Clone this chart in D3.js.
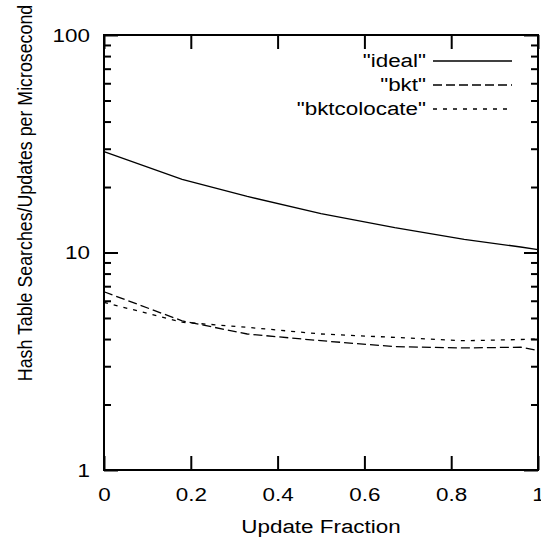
<!DOCTYPE html>
<html>
<head>
<meta charset="utf-8">
<script src="https://cdn.jsdelivr.net/npm/d3@7"></script>
<style>
    body { margin: 0; background: #fff; }
    text { font-family: "Liberation Sans", Arial, sans-serif; fill: #000; }
</style>
</head>
<body>
<div class="chart-container"></div>
<script>
var fractions = [0, 0.18, 0.33, 0.5, 0.67, 0.83, 0.96, 1];
var ideal = [29.1, 21.7, 18.1, 15.1, 13.0, 11.5, 10.6, 10.3];
var bkt = [6.6, 4.85, 4.22, 3.93, 3.69, 3.64, 3.67, 3.54];
var bktColocate = [5.9, 4.78, 4.53, 4.22, 4.07, 3.93, 3.98, 4.0];
var seriesNames = ['"ideal"', '"bkt"', '"bktcolocate"'];
var xTicks = [0, 0.2, 0.4, 0.6, 0.8, 1];
var yTicks = [1, 10, 100];

// the reference text is a bit wider than it is tall
var stretch = 1.18;

var chart = {
    draw: function () {
        this.defineComponents();
        this.addTicks();
        this.addLines();
        this.addFrame();
        this.addLabels();
        this.addLegend();
    },
    defineComponents: function () {
        this.margin = { top: 35, right: 3, bottom: 71, left: 104 };
        this.width = 541 - this.margin.left - this.margin.right;
        this.height = 541 - this.margin.top - this.margin.bottom;

        this.svg = d3.select(".chart-container")
            .append("svg")
            .attr("width", 541)
            .attr("height", 541)
            .append("g")
            .attr("transform", "translate(" + this.margin.left + "," + this.margin.top + ")");

        this.x = d3.scaleLinear().domain([0, 1]).range([0, this.width]);
        this.y = d3.scaleLog().domain([1, 100]).range([this.height, 0]);

        this.series = [
            { name: seriesNames[0], values: ideal, dash: null },
            { name: seriesNames[1], values: bkt, dash: "9,4" },
            { name: seriesNames[2], values: bktColocate, dash: "4,6" }
        ];
    },
    addTicks: function () {
        var minor = [];
        [1, 10].forEach(function (d) {
            for (var k = 2; k <= 9; k++) minor.push(d * k);
        });

        var tickStyle = function (g) {
            g.select(".domain").remove();
            g.selectAll("line").attr("stroke", "#000").attr("stroke-width", 2);
            g.selectAll("text")
                .style("font-size", "19px")
                .attr("transform", "scale(" + stretch + ",1)");
        };

        // bottom and top x ticks
        this.svg.append("g")
            .attr("transform", "translate(0," + this.height + ")")
            .call(d3.axisBottom(this.x).tickValues(xTicks).tickSize(-14).tickPadding(17.5)
                .tickFormat(function (d) { return d3.format("")(d); }))
            .call(tickStyle);
        this.svg.append("g")
            .call(d3.axisTop(this.x).tickValues(xTicks).tickSize(-14).tickFormat(""))
            .call(tickStyle);

        // left and right y ticks, major and minor
        this.svg.append("g")
            .call(d3.axisLeft(this.y).tickValues(yTicks).tickSize(-14)
                .tickFormat(d3.format("d")))
            .call(tickStyle)
            .selectAll("text")
            .attr("x", -14 / stretch);
        this.svg.append("g")
            .call(d3.axisLeft(this.y).tickValues(minor).tickSize(-7).tickFormat(""))
            .call(tickStyle);
        this.svg.append("g")
            .attr("transform", "translate(" + this.width + ",0)")
            .call(d3.axisRight(this.y).tickValues(yTicks).tickSize(-14).tickFormat(""))
            .call(tickStyle);
        this.svg.append("g")
            .attr("transform", "translate(" + this.width + ",0)")
            .call(d3.axisRight(this.y).tickValues(minor).tickSize(-7).tickFormat(""))
            .call(tickStyle);
    },
    addLines: function () {
        var that = this;
        var line = d3.line()
            .x(function (d, i) { return that.x(fractions[i]); })
            .y(function (d) { return that.y(d); });

        this.series.forEach(function (s) {
            that.svg.append("path")
                .datum(s.values)
                .attr("fill", "none")
                .attr("stroke", "#000")
                .attr("stroke-width", 1.3)
                .attr("stroke-dasharray", s.dash)
                .attr("d", line);
        });
    },
    addFrame: function () {
        this.svg.append("rect")
            .attr("width", this.width)
            .attr("height", this.height)
            .attr("fill", "none")
            .attr("stroke", "#000")
            .attr("stroke-width", 2);
    },
    addLabels: function () {
        this.svg.append("text")
            .attr("transform", "translate(" + (this.width / 2) + "," + (this.height + 63) + ") scale(" + stretch + ",1)")
            .style("text-anchor", "middle")
            .style("font-size", "19px")
            .text("Update Fraction");

        this.svg.append("text")
            .attr("transform", "translate(" + (-72) + "," + 158 + ") scale(" + stretch + ",1) rotate(-90)")
            .style("text-anchor", "middle")
            .style("font-size", "17.8px")
            .text("Hash Table Searches/Updates per Microsecond");
    },
    addLegend: function () {
        var legend = this.svg.selectAll(".legend")
            .data(this.series)
            .enter()
            .append("g")
            .attr("transform", function (d, i) {
                return "translate(0," + (26 + i * 24) + ")";
            });

        legend.append("text")
            .attr("transform", "translate(322,0) scale(" + stretch + ",1)")
            .attr("dy", "0.3em")
            .style("text-anchor", "end")
            .style("font-size", "19px")
            .text(function (d) { return d.name; });

        legend.append("line")
            .attr("x1", 329)
            .attr("x2", 408)
            .attr("stroke", "#000")
            .attr("stroke-width", 1.3)
            .attr("stroke-dasharray", function (d) { return d.dash; });
    }
};

chart.draw();
</script>
</body>
</html>
